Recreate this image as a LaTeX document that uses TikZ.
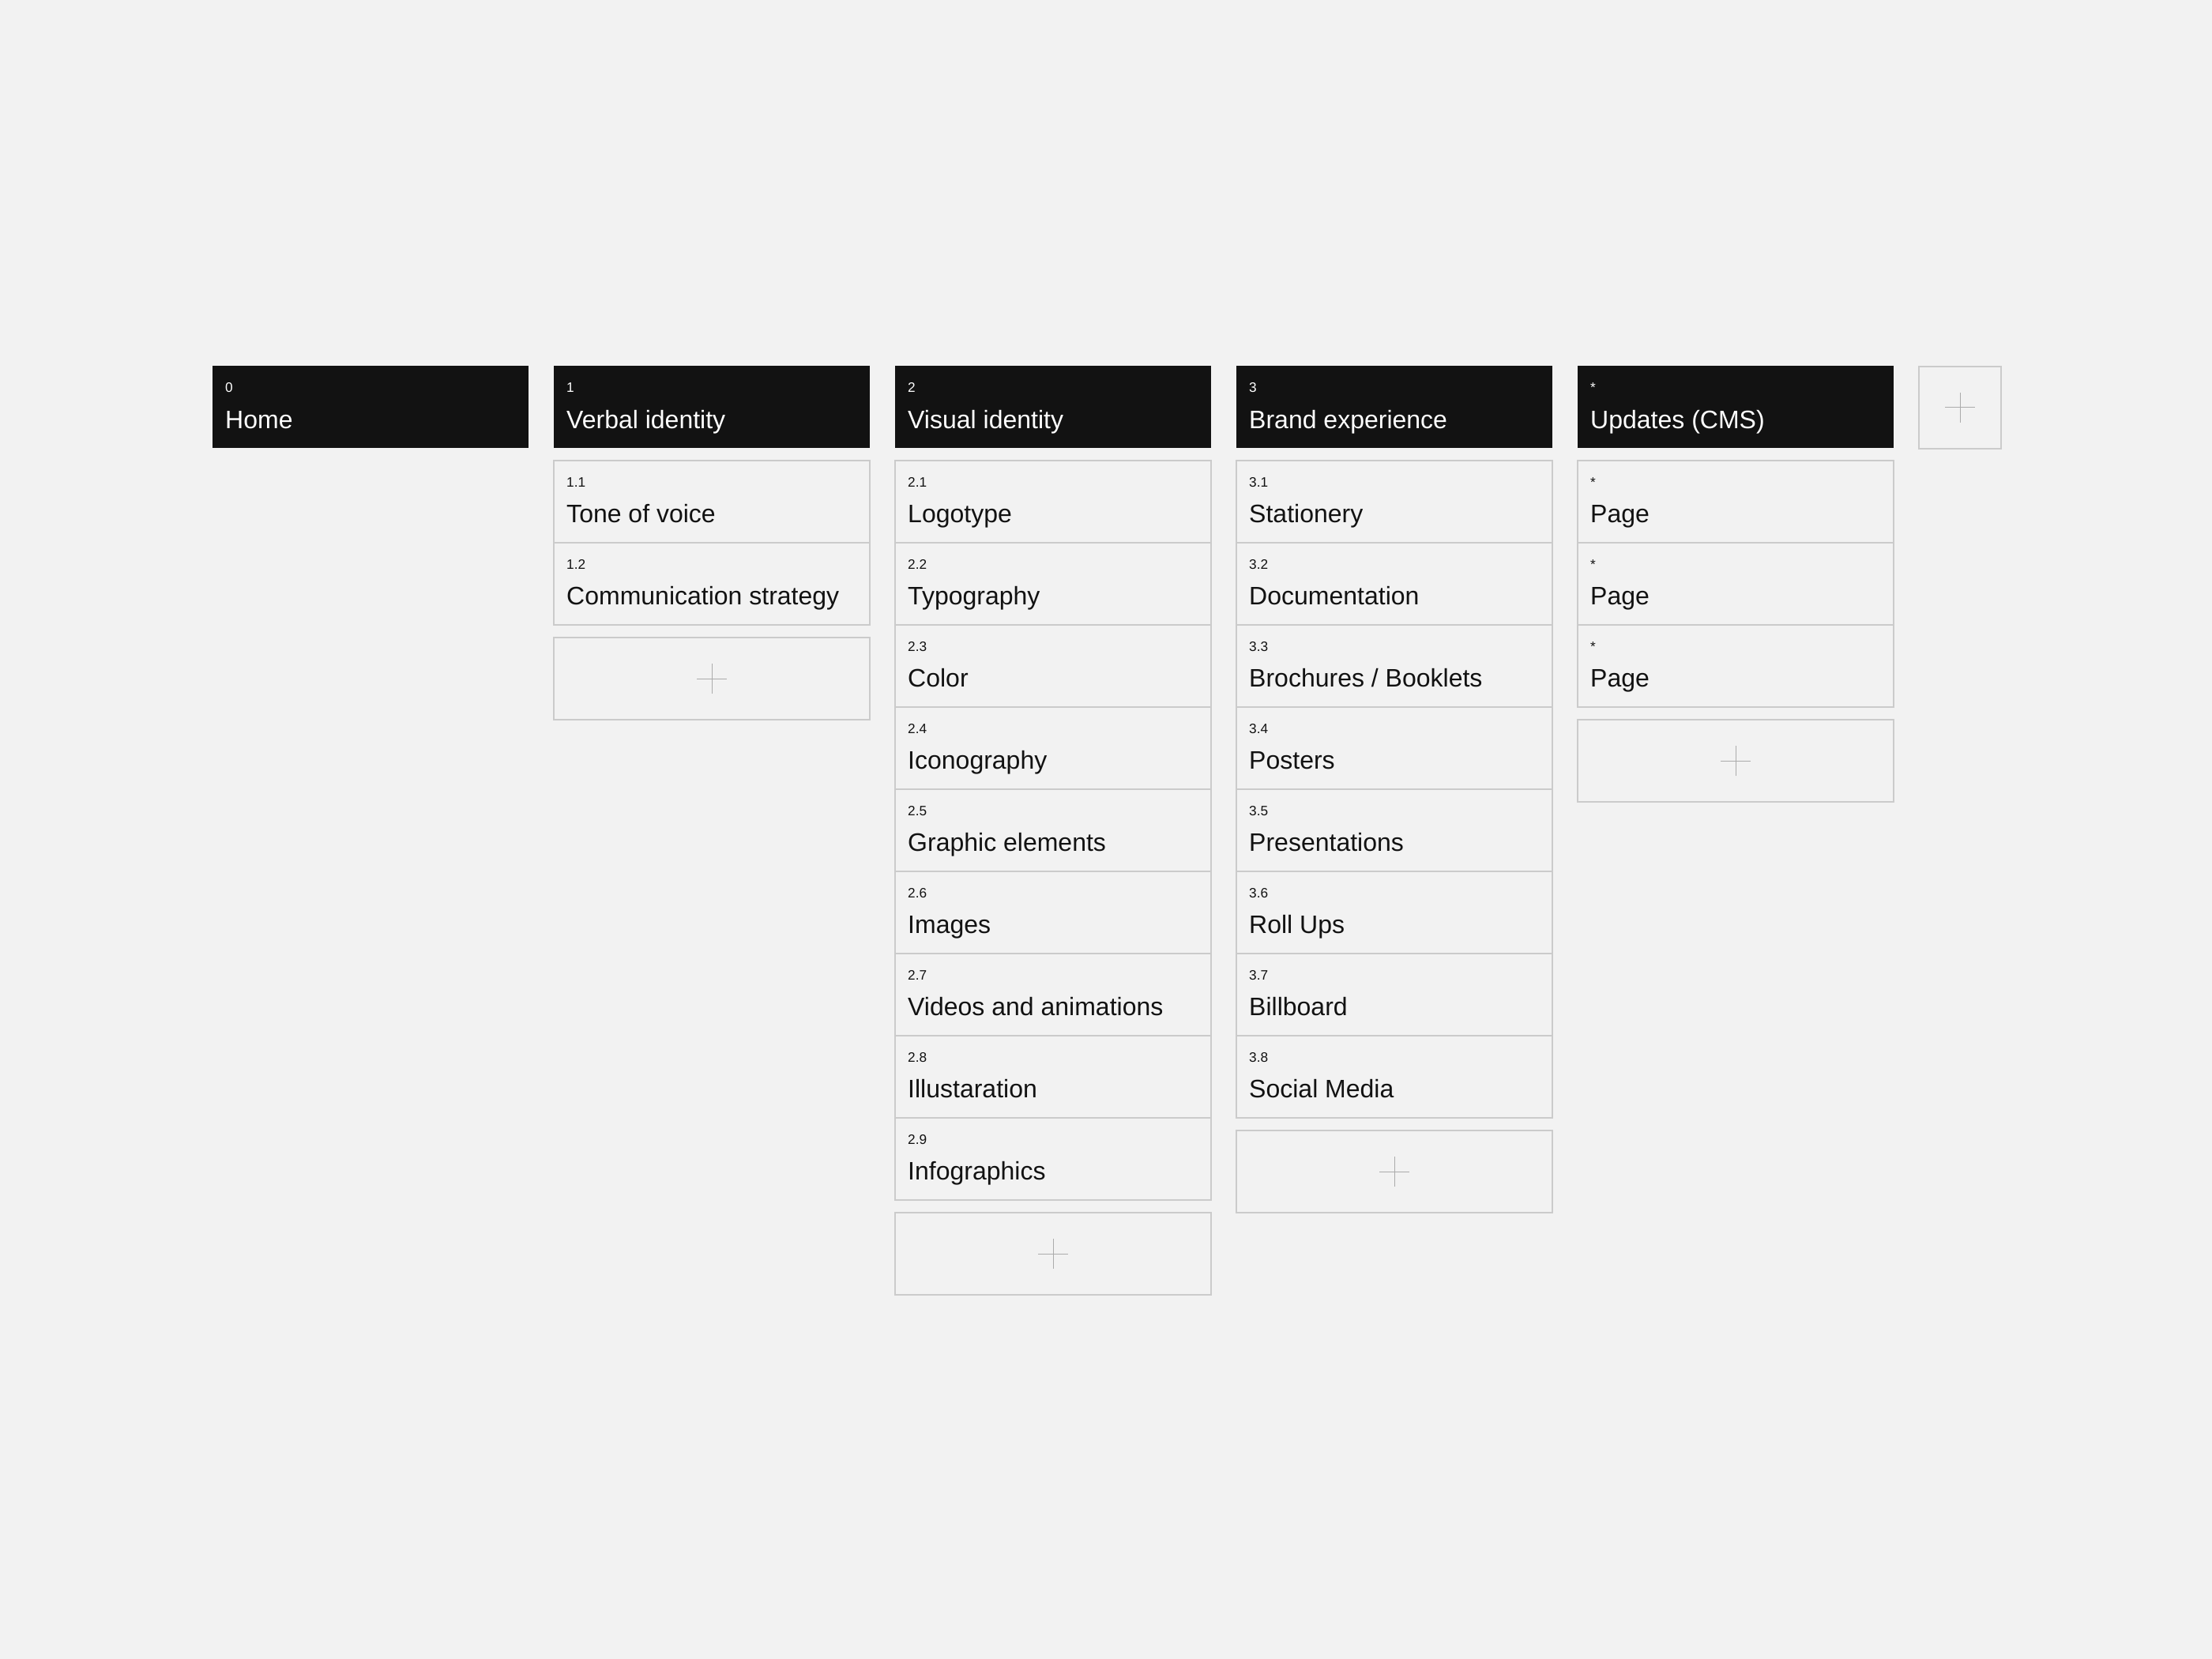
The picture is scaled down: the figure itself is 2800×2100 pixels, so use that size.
\documentclass[tikz,border=0pt]{standalone}
\usepackage{fontspec}
\setmainfont{Liberation Sans}
\usetikzlibrary{positioning}

\definecolor{bg}{HTML}{F2F2F2}
\definecolor{ink}{HTML}{121212}
\definecolor{rule}{HTML}{CBCBCB}
\definecolor{plusgray}{HTML}{ABABAB}

\tikzset{
  head/.style={fill=ink, minimum width=4cm, minimum height=1.04cm, anchor=north west, inner sep=0pt},
  item/.style={draw=rule, line width=0.02cm, minimum width=4cm, minimum height=1.04cm, anchor=north west, inner sep=0pt},
  plus/.style={draw=plusgray, line width=0.01cm},
  addbox/.style={item, path picture={
      \draw[plus] (path picture bounding box.center) ++(-0.19cm,0) -- ++(0.38cm,0)
                  (path picture bounding box.center) ++(0,-0.19cm) -- ++(0,0.38cm);}},
  num/.style={anchor=base west, inner sep=0pt, font=\fontsize{4.9}{5}\selectfont},
  title/.style={anchor=base west, inner sep=0pt, font=\fontsize{9.1}{10}\selectfont}
}

% number and title inside a box
\newcommand{\boxtext}[4]{%
  \node[num, text=#4] (#1-n) at ([shift={(0.165cm,-0.34cm)}]#1.north west) {#2};
  \node[title, text=#4] (#1-t) at ([shift={(0.165cm,-0.795cm)}]#1.north west) {#3};
}

\begin{document}
\begin{tikzpicture}[x=0.01cm, y=-0.01cm]
  \fill[bg] (0,0) rectangle (2800,2100);
  \useasboundingbox (0,0) rectangle (2800,2100);

  % section headers
  \foreach \x/\n/\t [count=\k from 0] in {268/0/Home, 700/1/Verbal identity,
      1132/2/Visual identity, 1564/3/Brand experience, 1996/*/Updates (CMS)} {
    \node[head] (h\k) at (\x,462.5) {};
    \boxtext{h\k}{\n}{\t}{white}
  }
  \node[addbox, minimum width=1.04cm] (hadd) at (2428,462.5) {};

  % 1 verbal identity
  \foreach \n/\t [count=\k] in {1.1/Tone of voice, 1.2/Communication strategy} {
    \node[item] (c1-\k) at ({700},{478+104*\k}) {};
    \boxtext{c1-\k}{\n}{\t}{ink}
  }
  \node[addbox] (add1) at (700,806) {};

  % 2 visual identity
  \foreach \n/\t [count=\k] in {2.1/Logotype, 2.2/Typography, 2.3/Color,
      2.4/Iconography, 2.5/Graphic elements, 2.6/Images,
      2.7/Videos and animations, 2.8/Illustaration, 2.9/Infographics} {
    \node[item] (c2-\k) at ({1132},{478+104*\k}) {};
    \boxtext{c2-\k}{\n}{\t}{ink}
  }
  \node[addbox] (add2) at (1132,1534) {};

  % 3 brand experience
  \foreach \n/\t [count=\k] in {3.1/Stationery, 3.2/Documentation,
      3.3/{Brochures / Booklets}, 3.4/Posters, 3.5/Presentations,
      3.6/Roll Ups, 3.7/Billboard, 3.8/Social Media} {
    \node[item] (c3-\k) at ({1564},{478+104*\k}) {};
    \boxtext{c3-\k}{\n}{\t}{ink}
  }
  \node[addbox] (add3) at (1564,1430) {};

  % cms pages
  \foreach \k in {1,2,3} {
    \node[item] (c4-\k) at ({1996},{478+104*\k}) {};
    \boxtext{c4-\k}{*}{Page}{ink}
  }
  \node[addbox] (add4) at (1996,910) {};
\end{tikzpicture}
\end{document}
